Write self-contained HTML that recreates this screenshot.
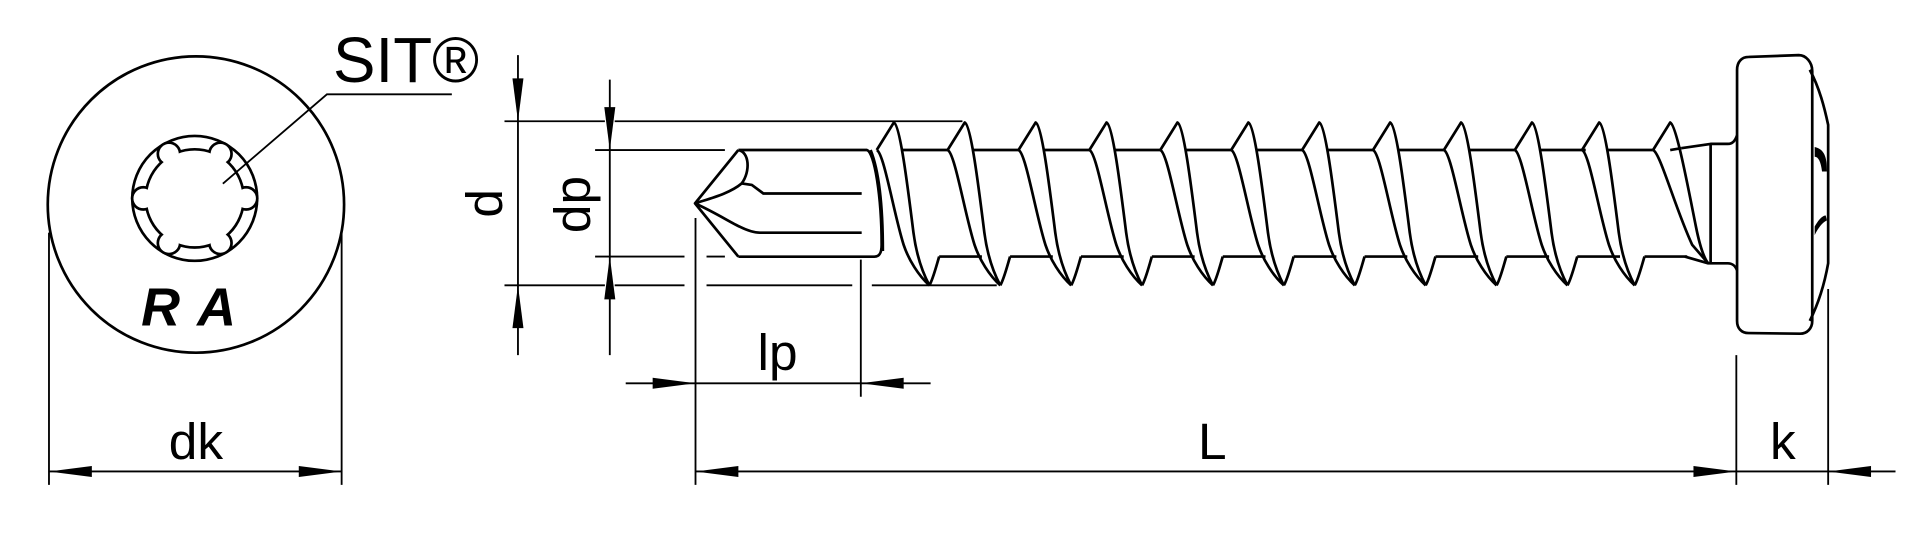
<!DOCTYPE html>
<html><head><meta charset="utf-8"><style>
html,body{margin:0;padding:0;background:#fff;}
svg{display:block;}
text{font-family:"Liberation Sans",sans-serif;fill:#000;}
</style></head><body>
<svg width="1920" height="548" viewBox="0 0 1568 447.5" xmlns="http://www.w3.org/2000/svg">
<defs>
<g id="th" fill="none" stroke="#000" stroke-width="2.2" stroke-linejoin="round">
<path d="M-14,122.5 L0,100 C5,102 11,150 16,190 C18,205 22,220 29,233"/>
<path d="M-14,122.5 C-8,125 0,175 8,200 C12,212 20,225 29,233"/>
<path d="M29,233 C32,228 35,216 37,209.5"/>
<path d="M7,122.5 L43.9,122.5"/>
<path d="M37,209.5 L71.9,209.5"/>
</g>
</defs>

<!-- front view -->
<g fill="none" stroke="#000" stroke-width="2.2">
<circle cx="160" cy="167" r="121"/>
<circle cx="159" cy="162" r="51"/>
</g>
<g stroke="#000" stroke-width="4.4" fill="#fff">
<circle cx="159" cy="162" r="39"/>
<circle cx="201" cy="162" r="8"/><circle cx="117" cy="162" r="8"/>
<circle cx="180" cy="125.6" r="8"/><circle cx="138" cy="125.6" r="8"/>
<circle cx="180" cy="198.4" r="8"/><circle cx="138" cy="198.4" r="8"/>
</g>
<g fill="#fff" stroke="none">
<circle cx="159" cy="162" r="39"/>
<circle cx="201" cy="162" r="8"/><circle cx="117" cy="162" r="8"/>
<circle cx="180" cy="125.6" r="8"/><circle cx="138" cy="125.6" r="8"/>
<circle cx="180" cy="198.4" r="8"/><circle cx="138" cy="198.4" r="8"/>
</g>
<text x="161" y="266" font-size="44" font-weight="bold" font-style="italic" text-anchor="middle" letter-spacing="14">RA</text>
<path d="M182,150 L267,77 L369,77" fill="none" stroke="#000" stroke-width="1.5"/>
<text x="272" y="67" font-size="52">SIT®</text>

<!-- dk -->
<g stroke="#000" stroke-width="1.5" fill="none">
<path d="M40,190 V396 M279,190 V396 M40,385 H279"/>
</g>
<g fill="#000">
<path d="M40,385 L75,380.5 L75,389.5Z"/><path d="M279,385 L244,380.5 L244,389.5Z"/>
</g>
<text x="160" y="375" font-size="42" text-anchor="middle">dk</text>

<!-- d / dp -->
<g stroke="#000" stroke-width="1.5" fill="none">
<path d="M423,45 V290 M498,65 V290"/>
<path d="M412,99 H494 M502,99 H786"/>
<path d="M486,122.5 H592"/>
<path d="M486,209.5 H559 M577,209.5 H592"/>
<path d="M412,233 H494 M502,233 H559 M577,233 H696 M712,233 H814"/>
</g>
<g fill="#000">
<path d="M423,99 L418.5,64 L427.5,64Z"/><path d="M423,233 L418.5,268 L427.5,268Z"/>
<path d="M498,122.5 L493.5,87.5 L502.5,87.5Z"/><path d="M498,209.5 L493.5,244.5 L502.5,244.5Z"/>
</g>
<text x="410" y="166" font-size="42" text-anchor="middle" transform="rotate(-90 410 166)">d</text>
<text x="482" y="167" font-size="42" text-anchor="middle" transform="rotate(-90 482 167)">dp</text>

<!-- point & body -->
<g fill="none" stroke="#000" stroke-width="2.2" stroke-linejoin="round">
<path d="M603,122.5 L567.6,166.1 L603,209.6"/>
<path d="M603,122.5 C612,124 613,140 605.7,149.8 C596,158 580,162 567.6,166.1"/>
<path d="M605.7,149.8 L614,151 L623.4,158 L703.7,158"/>
<path d="M567.6,166.1 C585,174 597,182 604.3,185.2 C610,188 615,190 620.6,190 L703.7,190"/>
<path d="M603,122.5 L708,122.5 C714,124 720,160 720,200 C720,207 718,209.6 714,209.6 L603,209.6"/>
<path d="M711,122.5 C718,140 721,170 721,205"/>
<path d="M1373,121 L1397,117.5 L1411,117.5 C1415,117.5 1417,115 1418.6,110.5"/>
<path d="M1375.9,209.5 L1395,215 L1411,215 C1415,215 1417,217 1418.6,220.6"/>
<path d="M1397,117.5 V215"/>
<path d="M1350,122.5 L1364,100 C1369,102 1378,150 1385,185 C1388,200 1391,210 1395,215"/>
<path d="M1350,122.5 C1356,125 1368,170 1382,200 L1395,215"/>
<path d="M1364,122.5 L1373,121"/>
<path d="M1428,46.5 L1469,45 C1475,45 1480,51 1480,58 L1480,262 C1480,268 1476,272.5 1470,272.5 L1428,272 C1422,272 1418.6,268 1418.6,262 L1418.6,57 C1418.6,51 1422,46.5 1428,46.5Z"/>
<path d="M1478,57 C1486,72 1490,88 1493,102 L1493,215 C1490,232 1485,248 1478,262"/>
</g>
<g fill="#000">
<path d="M1482,120 C1490,122 1492,128 1492,140 L1488,140 C1487,132 1485,128 1482,128Z"/>
<path d="M1482,185 C1486,178 1489,176 1491,176 L1492,180 C1488,182 1485,186 1482,192Z"/>
</g>
<use href="#th" x="730"/><use href="#th" x="787.9"/><use href="#th" x="845.8"/>
<use href="#th" x="903.7"/><use href="#th" x="961.6"/><use href="#th" x="1019.5"/>
<use href="#th" x="1077.4"/><use href="#th" x="1135.3"/><use href="#th" x="1193.2"/>
<use href="#th" x="1251.1"/><use href="#th" x="1306"/>

<!-- lp / L / k -->
<g stroke="#000" stroke-width="1.5" fill="none">
<path d="M568,178 V396 M703,212 V324 M511,313 H760"/>
<path d="M568,385 H1418 M1418,290 V396 M1493,236 V396 M1418,385 H1548"/>
</g>
<g fill="#000">
<path d="M568,313 L533,308.5 L533,317.5Z"/><path d="M703,313 L738,308.5 L738,317.5Z"/>
<path d="M568,385 L603,380.5 L603,389.5Z"/><path d="M1418,385 L1383,380.5 L1383,389.5Z"/>
<path d="M1493,385 L1528,380.5 L1528,389.5Z"/>
</g>
<text x="635" y="302" font-size="42" text-anchor="middle">lp</text>
<text x="990" y="375" font-size="42" text-anchor="middle">L</text>
<text x="1456" y="375" font-size="42" text-anchor="middle">k</text>
</svg>
</body></html>
